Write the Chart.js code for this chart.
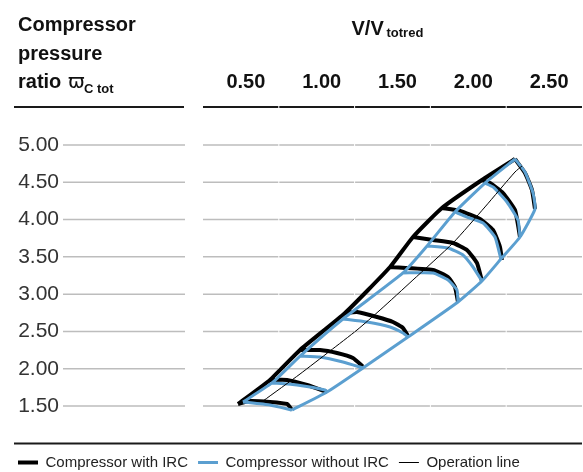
<!DOCTYPE html>
<html>
<head>
<meta charset="utf-8">
<script src="https://cdn.jsdelivr.net/npm/chart.js@4/dist/chart.umd.min.js"></script>
<style>
html,body{margin:0;padding:0;background:#fff;}
#wrap{width:583px;height:472px;}
</style>
</head>
<body>
<div id="wrap"><canvas id="c" width="583" height="472"></canvas></div>
<script>
// ---- tick labels ----
const xTickValues = [0.5, 1.0, 1.5, 2.0, 2.5];
const yTickValues = [1.5, 2.0, 2.5, 3.0, 3.5, 4.0, 4.5, 5.0];
const columnBounds = [0.75, 1.25, 1.75, 2.25];

// ---- Compressor with IRC (black) ----
const ircSurge = [[0.481,1.527],[0.692,1.849],[0.890,2.251],[1.187,2.747],[1.484,3.364],[1.635,3.766],[1.826,4.155],[2.090,4.531],[2.308,4.812]];
const ircSpeed1 = [[0.481,1.527],[0.560,1.567],[0.692,1.554],[0.804,1.527],[0.837,1.446]];
const ircSpeed2 = [[0.692,1.849],[0.804,1.849],[0.936,1.782],[1.068,1.688]];
const ircSpeed3 = [[0.890,2.251],[1.022,2.251],[1.134,2.211],[1.239,2.144],[1.305,2.030]];
const ircSpeed4 = [[1.187,2.747],[1.266,2.760],[1.398,2.693],[1.503,2.626],[1.569,2.546],[1.602,2.439]];
const ircSpeed5 = [[1.484,3.364],[1.767,3.324],[1.866,3.230],[1.912,3.096],[1.932,2.895]];
const ircSpeed6 = [[1.635,3.766],[1.767,3.726],[1.899,3.686],[1.991,3.592],[2.057,3.418],[2.090,3.176]];
const ircSpeed7 = [[1.826,4.155],[1.945,4.115],[2.077,4.008],[2.163,3.860],[2.209,3.632],[2.222,3.458]];
const ircSpeed8 = [[2.090,4.531],[2.143,4.490],[2.229,4.356],[2.308,4.128],[2.341,3.766]];
const ircSpeed9 = [[2.308,4.812],[2.374,4.625],[2.420,4.397],[2.440,4.142]];

// ---- Compressor without IRC (blue) ----
const noIrcSurge = [[0.514,1.554],[0.705,1.809],[0.890,2.170],[1.173,2.667],[1.569,3.284],[1.728,3.646],[1.912,4.102],[2.110,4.490],[2.308,4.812]];
const noIrcChoke = [[0.837,1.446],[1.068,1.688],[1.305,2.010],[1.602,2.425],[1.932,2.895],[2.090,3.176],[2.215,3.470],[2.341,3.766],[2.440,4.142],[2.427,4.356],[2.374,4.638],[2.308,4.812]];
const noIrcSpeed1 = [[0.514,1.554],[0.692,1.513],[0.837,1.446]];
const noIrcSpeed2 = [[0.705,1.809],[0.870,1.782],[1.055,1.715],[1.068,1.688]];
const noIrcSpeed3 = [[0.890,2.170],[1.022,2.157],[1.173,2.090],[1.305,2.010]];
const noIrcSpeed4 = [[1.173,2.667],[1.332,2.626],[1.484,2.559],[1.569,2.479],[1.602,2.425]];
const noIrcSpeed5 = [[1.569,3.284],[1.767,3.284],[1.866,3.190],[1.925,3.056],[1.932,2.895]];
const noIrcSpeed6 = [[1.728,3.646],[1.866,3.619],[1.965,3.525],[2.031,3.364],[2.090,3.176]];
const noIrcSpeed7 = [[1.912,4.102],[1.991,4.034],[2.097,3.954],[2.176,3.766],[2.215,3.470]];
const noIrcSpeed8 = [[2.110,4.490],[2.163,4.437],[2.255,4.236],[2.328,3.994],[2.341,3.766]];

// ---- Operation line (thin black) ----
const operationLine = [[0.646,1.567],[0.890,1.929],[1.088,2.238],[1.266,2.519],[1.418,2.787],[1.635,3.190],[1.899,3.686],[2.110,4.169],[2.308,4.638],[2.354,4.718]];

function joinCurves(curves) {
  const out = [];
  curves.forEach((c, i) => {
    if (i > 0) out.push({x: null, y: null});
    c.forEach(p => out.push({x: p[0], y: p[1]}));
  });
  return out;
}

const FONT = '"Liberation Sans", Arial, Helvetica, sans-serif';
const BLUE = '#5b9fd0';

const decorPlugin = {
  id: 'decor',
  beforeDatasetsDraw(chart) {
    const ctx = chart.ctx, x = chart.scales.x, y = chart.scales.y;
    const left = chart.chartArea.left, right = chart.chartArea.right;
    const gaps = columnBounds.map(v => x.getPixelForValue(v));
    ctx.save();
    ctx.strokeStyle = '#bdbdbd';
    ctx.lineWidth = 1.5;
    yTickValues.forEach(v => {
      const py = y.getPixelForValue(v);
      ctx.beginPath();
      ctx.moveTo(63, py); ctx.lineTo(185, py);
      let sx = left;
      gaps.forEach(g => { ctx.moveTo(sx, py); ctx.lineTo(g - 0.5, py); sx = g + 0.5; });
      ctx.moveTo(sx, py); ctx.lineTo(right, py);
      ctx.stroke();
    });
    ctx.restore();
  },
  afterDraw(chart) {
    const ctx = chart.ctx, x = chart.scales.x;
    const left = chart.chartArea.left, right = chart.chartArea.right;
    const gaps = columnBounds.map(v => x.getPixelForValue(v));
    ctx.save();
    ctx.fillStyle = '#111';
    ctx.textBaseline = 'alphabetic';
    ctx.textAlign = 'left';
    ctx.font = 'bold 20px ' + FONT;
    ctx.fillText('Compressor', 18, 31);
    ctx.fillText('pressure', 18, 59.5);
    ctx.fillText('ratio', 18, 88);
    ctx.font = '20px "DejaVu Sans", ' + FONT;
    ctx.fillText('\u03D6', 68, 88);
    ctx.font = 'bold 13px ' + FONT;
    ctx.fillText('C tot', 84, 93);
    ctx.font = 'bold 20px ' + FONT;
    ctx.fillText('V/V', 351.5, 34.5);
    ctx.font = 'bold 13px ' + FONT;
    ctx.fillText('totred', 386.5, 37);
    // header rules
    ctx.strokeStyle = '#1a1a1a';
    ctx.lineWidth = 2;
    ctx.beginPath();
    ctx.moveTo(14, 107); ctx.lineTo(184, 107);
    let sx = left;
    gaps.forEach(g => { ctx.moveTo(sx, 107); ctx.lineTo(g - 0.5, 107); sx = g + 0.5; });
    ctx.moveTo(sx, 107); ctx.lineTo(right, 107);
    // bottom rule
    ctx.moveTo(14, 443.5); ctx.lineTo(right, 443.5);
    ctx.stroke();
    ctx.restore();
  }
};

function noPad(s) { s.paddingLeft = 0; s.paddingRight = 0; s.paddingTop = 0; s.paddingBottom = 0; }

new Chart(document.getElementById('c'), {
  type: 'scatter',
  data: {
    datasets: [
      {
        label: 'Compressor with IRC',
        data: joinCurves([ircSurge, ircSpeed1, ircSpeed2, ircSpeed3, ircSpeed4, ircSpeed5, ircSpeed6, ircSpeed7, ircSpeed8, ircSpeed9]),
        borderColor: '#000', backgroundColor: '#000', borderWidth: 4,
        showLine: true, pointRadius: 0, tension: 0.15, order: 3, clip: false
      },
      {
        label: 'Compressor without IRC',
        data: joinCurves([noIrcSurge, noIrcChoke, noIrcSpeed1, noIrcSpeed2, noIrcSpeed3, noIrcSpeed4, noIrcSpeed5, noIrcSpeed6, noIrcSpeed7, noIrcSpeed8]),
        borderColor: BLUE, backgroundColor: BLUE, borderWidth: 3,
        showLine: true, pointRadius: 0, tension: 0.15, order: 2, clip: false
      },
      {
        label: 'Operation line',
        data: joinCurves([operationLine]),
        borderColor: '#000', backgroundColor: '#000', borderWidth: 1,
        showLine: true, pointRadius: 0, tension: 0.2, order: 1, clip: false
      }
    ]
  },
  options: {
    responsive: false,
    animation: false,
    devicePixelRatio: 1,
    layout: { padding: { left: 8, right: 1, top: 0, bottom: -8 } },
    plugins: {
      tooltip: { enabled: false },
      legend: {
        position: 'bottom',
        align: 'start',
        labels: {
          usePointStyle: true,
          pointStyle: 'line',
          pointStyleWidth: 20,
          boxHeight: 15,
          padding: 10,
          color: '#222',
          font: { family: FONT, size: 15 },
          sort: (a, b) => a.datasetIndex - b.datasetIndex
        }
      }
    },
    scales: {
      x: {
        type: 'linear',
        position: 'top',
        min: 0.25, max: 2.75,
        afterBuildTicks: s => { s.ticks = xTickValues.map(v => ({value: v})); },
        afterFit: s => { s.height = 145; noPad(s); },
        grid: { display: false, drawTicks: false },
        border: { display: false },
        ticks: {
          maxRotation: 0, autoSkip: false, padding: 51, labelOffset: 5,
          color: '#111',
          font: { family: FONT, size: 20, weight: 'bold' },
          callback: v => Number(v).toFixed(2)
        }
      },
      y: {
        type: 'linear',
        position: 'left',
        min: 0.977, max: 5.0,
        afterBuildTicks: s => { s.ticks = yTickValues.map(v => ({value: v})); },
        afterFit: s => { s.width = 195; noPad(s); },
        grid: { display: false, drawTicks: false },
        border: { display: false },
        ticks: {
          padding: 144, autoSkip: false,
          color: '#333',
          font: { family: FONT, size: 21 },
          callback: v => Number(v).toFixed(2)
        }
      }
    }
  },
  plugins: [decorPlugin]
});
</script>
</body>
</html>
